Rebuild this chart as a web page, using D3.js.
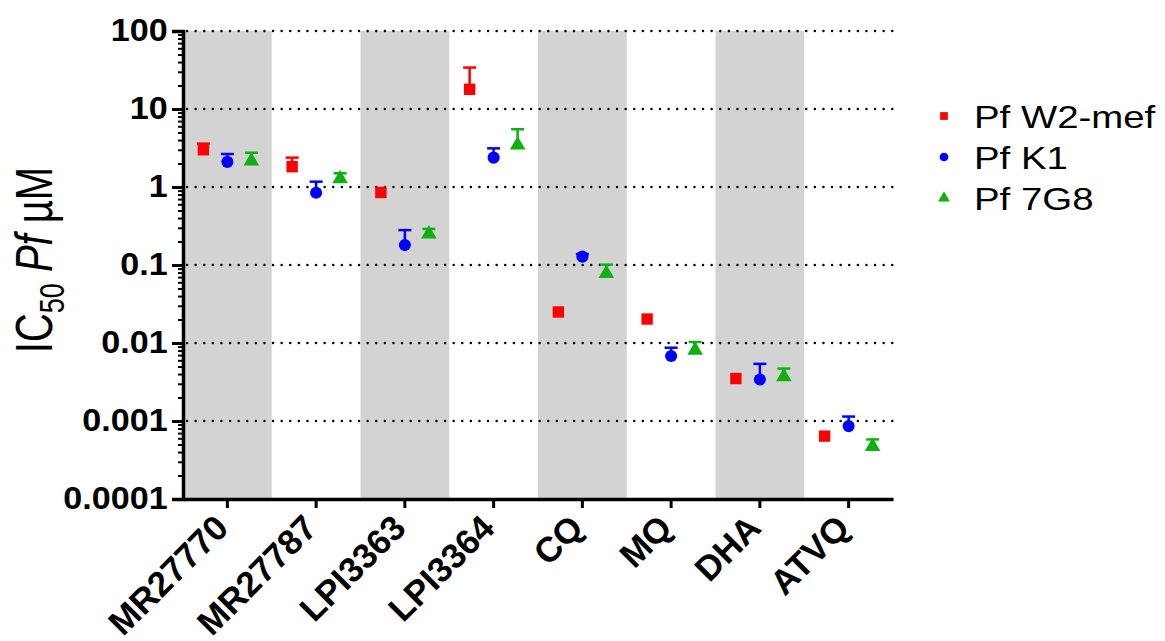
<!DOCTYPE html>
<html>
<head>
<meta charset="utf-8">
<script src="https://cdn.jsdelivr.net/npm/d3@7"></script>
<style>
  html, body { margin: 0; padding: 0; background: #fff; }
  svg { display: block; }
  text { font-family: "Liberation Sans", Arial, sans-serif; }
</style>
</head>
<body>
<svg id="chart" width="1165" height="641"></svg>
<script>
// ---- data ----
const categories = ["MR27770", "MR27787", "LPI3363", "LPI3364", "CQ", "MQ", "DHA", "ATVQ"];
const seriesNames = ["Pf W2-mef", "Pf K1", "Pf 7G8"];
const seriesColors = ["#ff0000", "#0000ff", "#10b010"];
const seriesSymbols = ["square", "circle", "triangle"];
// mean IC50 (µM)
const w2mef = [3.0, 1.82, 0.85, 17.9, 0.025, 0.0203, 0.0035, 0.00064];
const k1    = [2.1, 0.845, 0.18, 2.38, 0.128, 0.0068, 0.0034, 0.00086];
const g7g8  = [2.15, 1.28, 0.25, 3.45, 0.078, 0.0081, 0.0037, 0.00047];
// upper end of error bar (µM), null = hidden behind symbol
const w2mefUp = [3.6, 2.38, null, 34, null, null, null, null];
const k1Up    = [2.65, 1.17, 0.28, 3.13, 0.138, 0.0087, 0.0054, 0.00114];
const g7g8Up  = [2.75, 1.5, 0.29, 5.5, 0.101, 0.0103, 0.0047, 0.00058];
const yTicks = [0.0001, 0.001, 0.01, 0.1, 1, 10, 100];
const yTickLabels = ["0.0001", "0.001", "0.01", "0.1", "1", "10", "100"];

const seriesValues = [w2mef, k1, g7g8];
const seriesUppers = [w2mefUp, k1Up, g7g8Up];

// ---- layout ----
const svg = d3.select("#chart");
const plot = { left: 183, right: 893, top: 31, bottom: 499 };

const x = d3.scaleBand().domain(categories).range([plot.left, plot.right]).padding(0);
const off = d3.scalePoint().domain(seriesNames).range([-24, 24]);
const y = d3.scaleLog().domain([0.0001, 100]).range([plot.bottom, plot.top]);

// alternating grey bands
svg.append("g").selectAll("rect")
  .data(categories.filter((d, i) => i % 2 === 0))
  .join("rect")
  .attr("x", d => x(d))
  .attr("y", plot.top)
  .attr("width", x.bandwidth())
  .attr("height", plot.bottom - plot.top)
  .attr("fill", "#d3d3d3");

// dotted grid lines
svg.append("g").selectAll("line")
  .data(yTicks.slice(1))
  .join("line")
  .attr("x1", plot.left + 4)
  .attr("x2", plot.right)
  .attr("y1", d => y(d))
  .attr("y2", d => y(d))
  .attr("stroke", "#000")
  .attr("stroke-width", 2.4)
  .attr("stroke-linecap", "round")
  .attr("stroke-dasharray", "0.1,8.5");

// y axis with minor ticks
const minor = [];
for (let e = -4; e < 2; e++) for (let m = 2; m <= 9; m++) minor.push(m * Math.pow(10, e));
const yMinor = svg.append("g").attr("transform", `translate(${plot.left},0)`)
  .call(d3.axisLeft(y).tickValues(minor).tickSize(5).tickFormat(""));
yMinor.select(".domain").remove();
yMinor.selectAll("line").attr("stroke-width", 2);

const yAxis = svg.append("g").attr("transform", `translate(${plot.left},0)`)
  .call(d3.axisLeft(y).tickValues(yTicks).tickSize(11).tickPadding(3)
    .tickFormat((d, i) => yTickLabels[i]));
yAxis.select(".domain").attr("stroke-width", 3.5);
yAxis.selectAll(".tick line").attr("stroke-width", 3);
yAxis.selectAll("text")
  .attr("font-size", 31).attr("font-weight", "bold").attr("fill", "#000")
  .attr("font-family", "'Liberation Sans', Arial, sans-serif")
  .attr("transform", "scale(1.1,1)");

// x axis
const xAxis = svg.append("g").attr("transform", `translate(0,${plot.bottom})`)
  .call(d3.axisBottom(x).tickSize(9).tickSizeOuter(0).tickFormat(""));
xAxis.select(".domain").attr("stroke-width", 3.5);
xAxis.selectAll(".tick line").attr("stroke-width", 3);

// x labels rotated
svg.append("g").selectAll("text")
  .data(categories)
  .join("text")
  .attr("transform", d => `translate(${x(d) + x.bandwidth() / 2 + 3},${plot.bottom + 31}) rotate(-45)`)
  .attr("text-anchor", "end")
  .attr("font-size", 35)
  .attr("font-weight", "bold")
  .attr("fill", "#000")
  .text(d => d);

// y axis title
const yt = svg.append("text")
  .attr("transform", `translate(52,260) scale(1.3,1) rotate(-90)`)
  .attr("text-anchor", "middle")
  .attr("font-size", 40)
  .attr("fill", "#000");
yt.append("tspan").text("IC");
yt.append("tspan").attr("font-size", 27).attr("dy", 9).text("50");
yt.append("tspan").attr("dy", -9).text(" ");
yt.append("tspan").attr("font-style", "italic").text("Pf");
yt.append("tspan").text(" µM");

// symbol generator
function symbolPath(kind, size) {
  const t = kind === "square" ? d3.symbolSquare : kind === "circle" ? d3.symbolCircle : d3.symbolTriangle;
  return d3.symbol().type(t).size(size)();
}
const symSize = { square: 130, circle: 115, triangle: 105 };

// data marks
seriesNames.forEach((name, si) => {
  const g = svg.append("g");
  const pts = categories.map((c, i) => ({
    c, v: seriesValues[si][i], up: seriesUppers[si][i]
  }));
  const cx = d => x(d.c) + x.bandwidth() / 2 + off(name);
  // error bars (upper)
  g.selectAll("line.err")
    .data(pts.filter(d => d.up != null))
    .join("line")
    .attr("x1", cx).attr("x2", cx)
    .attr("y1", d => y(d.v)).attr("y2", d => y(d.up))
    .attr("stroke", seriesColors[si]).attr("stroke-width", 2.5);
  g.selectAll("line.cap")
    .data(pts.filter(d => d.up != null))
    .join("line")
    .attr("x1", d => cx(d) - 6.5).attr("x2", d => cx(d) + 6.5)
    .attr("y1", d => y(d.up)).attr("y2", d => y(d.up))
    .attr("stroke", seriesColors[si]).attr("stroke-width", 2.5);
  g.selectAll("path")
    .data(pts)
    .join("path")
    .attr("transform", d => `translate(${cx(d)},${y(d.v)})`)
    .attr("d", symbolPath(seriesSymbols[si], symSize[seriesSymbols[si]]))
    .attr("fill", seriesColors[si]);
});

// legend
const legend = svg.append("g");
seriesNames.forEach((name, si) => {
  const ly = 116 + si * 41;
  legend.append("path")
    .attr("transform", `translate(944,${ly})`)
    .attr("d", symbolPath(seriesSymbols[si], 60))
    .attr("fill", seriesColors[si]);
  legend.append("text")
    .attr("transform", `translate(974,${ly + 11.5}) scale(1.2,1)`)
    .attr("font-size", 32)
    .attr("fill", "#000")
    .text(name);
});
</script>
</body>
</html>
